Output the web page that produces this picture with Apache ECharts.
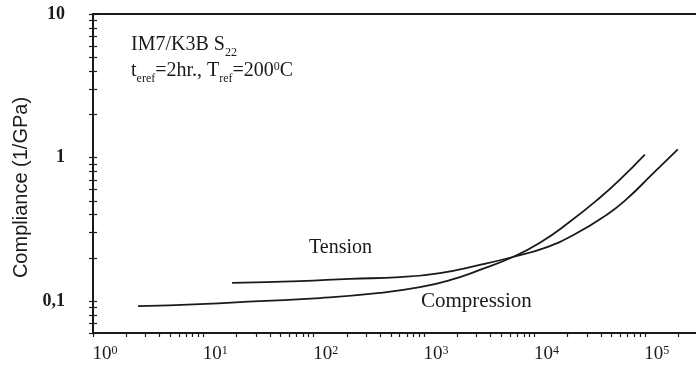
<!DOCTYPE html>
<html>
<head>
<meta charset="utf-8">
<script src="https://cdn.jsdelivr.net/npm/echarts@6/dist/echarts.min.js"></script>
<style>
html, body { margin: 0; padding: 0; background: #fff; }
#chart { width: 696px; height: 368px; }
</style>
</head>
<body>
<div id="chart"></div>
<script>
// curves (time in s, compliance in 1/GPa)
const compressionX = [2.56, 9.3, 32.6, 114, 398, 916, 1710, 3200, 6370, 11200, 20900, 39100, 59400, 100000];
const compressionY = [0.0923, 0.0953, 0.100, 0.105, 0.114, 0.125, 0.140, 0.165, 0.203, 0.255, 0.357, 0.525, 0.702, 1.05];
const tensionX = [18.2, 75, 213, 604, 1390, 3200, 6370, 12420, 23200, 45260, 68700, 115700, 199000];
const tensionY = [0.134, 0.138, 0.143, 0.147, 0.157, 0.179, 0.203, 0.235, 0.292, 0.400, 0.515, 0.760, 1.14];

// axes
const xMin = 1, xMax = 316228;
const yMin = 0.06, yMax = 10;
const xLabelValues = [1, 10, 100, 1000, 10000, 100000];
const yLabelValues = [0.1, 1, 10];
const minorSteps = [1, 2, 3, 4, 5, 6, 7, 8, 9];

const xTickValues = [];
xLabelValues.forEach(d => minorSteps.forEach(m => {
  if (d * m <= xMax) xTickValues.push(d * m);
}));
const yTickValues = [];
[0.01, 0.1, 1, 10].forEach(d => minorSteps.forEach(m => {
  const v = +(d * m).toPrecision(3);
  if (v >= yMin && v <= yMax) yTickValues.push(v);
}));

const ink = '#1a1a1a';
const serif = '"Liberation Serif", "Times New Roman", serif';

const toPairs = (xs, ys) => xs.map((x, i) => [x, ys[i]]);

const chart = echarts.init(document.getElementById('chart'));

const option = {
  animation: false,
  backgroundColor: '#fff',
  grid: { left: 93, right: -4, top: 14, bottom: 35, outerBoundsMode: 'none' },
  xAxis: [
    {
      type: 'log', logBase: 10, min: xMin, max: xMax,
      axisLine: { onZero: false, lineStyle: { color: ink, width: 2 } },
      axisTick: { show: true, inside: false, length: 4, customValues: xTickValues, lineStyle: { color: ink, width: 1.2 } },
      minorTick: { show: false },
      splitLine: { show: false },
      axisLabel: {
        customValues: xLabelValues,
        formatter: v => '{b|10}{p|' + Math.round(Math.log10(v)) + '}',
        margin: 12,
        padding: [0, 0, 0, 24],
        rich: {
          b: { fontFamily: serif, fontSize: 19, color: ink, verticalAlign: 'top' },
          p: { fontFamily: serif, fontSize: 12, color: ink, verticalAlign: 'top' }
        }
      }
    },
    {
      type: 'log', logBase: 10, min: xMin, max: xMax, position: 'top',
      axisLine: { onZero: false, lineStyle: { color: ink, width: 2 } },
      axisTick: { show: false },
      axisLabel: { show: false },
      splitLine: { show: false }
    }
  ],
  yAxis: [
    {
      type: 'log', logBase: 10, min: yMin, max: yMax,
      name: 'Compliance (1/GPa)',
      nameLocation: 'middle',
      nameGap: 58,
      nameTextStyle: { fontFamily: '"Liberation Sans", Arial, sans-serif', fontSize: 20, color: ink, padding: [0, 28, 0, 0] },
      axisLine: { onZero: false, lineStyle: { color: ink, width: 2 } },
      axisTick: { show: true, inside: false, length: 4, customValues: yTickValues, lineStyle: { color: ink, width: 1.2 } },
      minorTick: { show: false },
      splitLine: { show: false },
      axisLabel: {
        customValues: yLabelValues,
        formatter: v => String(v).replace('.', ','),
        fontFamily: serif, fontSize: 18, fontWeight: 'bold', color: ink,
        margin: 28
      }
    },
    {
      type: 'log', logBase: 10, min: yMin, max: yMax, position: 'left',
      axisLine: { show: false },
      axisTick: { show: true, inside: true, length: 4, customValues: yTickValues, lineStyle: { color: ink, width: 1.2 } },
      axisLabel: { show: false },
      splitLine: { show: false }
    }
  ],
  series: [
    {
      name: 'Compression', type: 'line', smooth: true, symbol: 'none',
      data: toPairs(compressionX, compressionY),
      lineStyle: { color: ink, width: 1.8 }
    },
    {
      name: 'Tension', type: 'line', smooth: true, symbol: 'none',
      data: toPairs(tensionX, tensionY),
      lineStyle: { color: ink, width: 1.8 }
    }
  ],
  graphic: [
    {
      type: 'text', left: 131, top: 35,
      style: {
        text: '{a|IM7/K3B S}{s|22}',
        rich: {
          a: { fontFamily: serif, fontSize: 20, fill: ink, verticalAlign: 'bottom', padding: [0, 0, 4, 0] },
          s: { fontFamily: serif, fontSize: 12, fill: ink, verticalAlign: 'bottom' }
        }
      }
    },
    {
      type: 'text', left: 131, top: 61,
      style: {
        text: '{a|t}{s|eref}{a|=2hr., T}{s|ref}{a|=200}{p|0}{a|C}',
        rich: {
          a: { fontFamily: serif, fontSize: 20, fill: ink, verticalAlign: 'bottom', padding: [0, 0, 4, 0] },
          s: { fontFamily: serif, fontSize: 12, fill: ink, verticalAlign: 'bottom' },
          p: { fontFamily: serif, fontSize: 12, fill: ink, verticalAlign: 'top' }
        }
      }
    },
    {
      type: 'text', left: 309, top: 238,
      style: { text: 'Tension', fontFamily: serif, fontSize: 20, fill: ink }
    },
    {
      type: 'text', left: 421, top: 291,
      style: { text: 'Compression', fontFamily: serif, fontSize: 21, fill: ink }
    }
  ]
};

chart.setOption(option);
</script>
</body>
</html>
